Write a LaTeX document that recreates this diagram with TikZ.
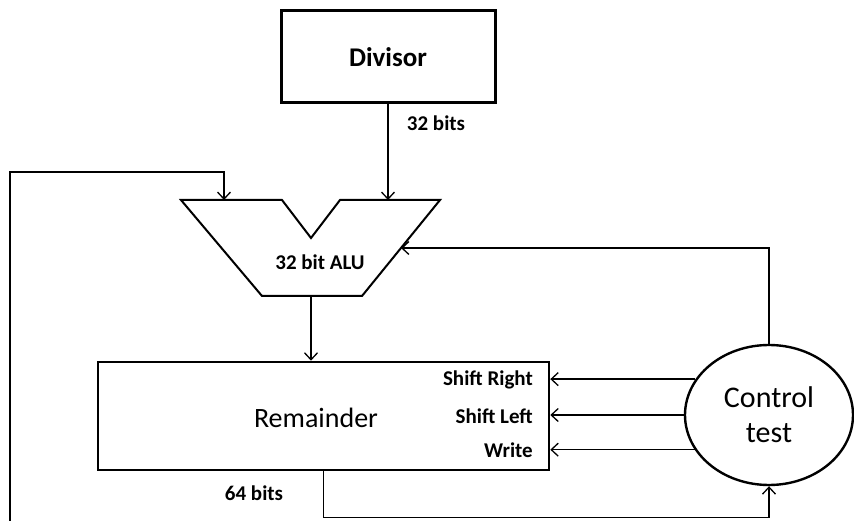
\documentclass[tikz,border=0pt]{standalone}
\usepackage{fontspec}
\setmainfont{Carlito}
\usetikzlibrary{arrows.meta,shapes.geometric}
\begin{document}
\begin{tikzpicture}[x=1pt,y=-1pt,
  conn/.style={line width=1.3pt, -{Straight Barb[length=7pt,width=13pt,line width=1.3pt]}},
  lbl/.style={font=\bfseries\fontsize{21}{21}\selectfont, inner sep=0pt},
  big/.style={font=\fontsize{28}{32}\selectfont, inner sep=0pt},
]
\useasboundingbox (0,0) rectangle (854,521);
% Divisor
\node[draw, line width=3pt, minimum width=214pt, minimum height=92pt, inner sep=0pt,
      font=\bfseries\fontsize{27}{27}\selectfont] (div) at (388,57) {Divisor};
\node[lbl] (b32) at (436,123) {32 bits};
% ALU
\coordinate (aluL) at (224,200);
\coordinate (aluR) at (388,200);
\coordinate (aluIn) at (401,248);
\coordinate (aluOut) at (311,296);
\draw[line width=2pt, line join=miter] (181,200) -- (282,200) -- (311,238) -- (340,200) -- (440,200) -- (362,296) -- (262,296) -- cycle;
\node[lbl] (alu) at (320,262) {32 bit ALU};
% Remainder
\node[draw, line width=2.6pt, minimum width=451pt, minimum height=108pt, inner sep=0pt] (rem) at (323.5,416) {};
\node[big] (remtxt) at (316,418) {Remainder};
\node[lbl, anchor=east] (sr) at (533,380) {Shift Right};
\node[lbl, anchor=east] (sl) at (533,416) {Shift Left};
\node[lbl, anchor=east] (wr) at (533,450) {Write};
\node[lbl] (b64) at (254,493) {64 bits};
% Control
\node[draw, ellipse, line width=2.4pt, minimum width=168pt, minimum height=140pt, inner sep=0pt,
      align=center, font=\fontsize{30}{35}\selectfont] (ctl) at (769,415) {Control\\test};
% connectors
\draw[conn] (div.south -| aluR) -- (aluR);
\coordinate (lb) at (10,521);
\draw[conn] (lb) -- (lb |- 0,172) -| (aluL);
\draw[conn] (aluOut) -- (aluOut |- rem.north);
\draw[conn] (ctl.north) |- (aluIn);
\draw[conn] (ctl.154) -- (ctl.154 -| rem.east);
\draw[conn] (ctl.west) -- (ctl.west -| rem.east);
\draw[conn] (ctl.205) -- (ctl.205 -| rem.east);
\draw[conn] (rem.south) -- ++(0,46) -| (ctl.south);
\end{tikzpicture}
\end{document}
